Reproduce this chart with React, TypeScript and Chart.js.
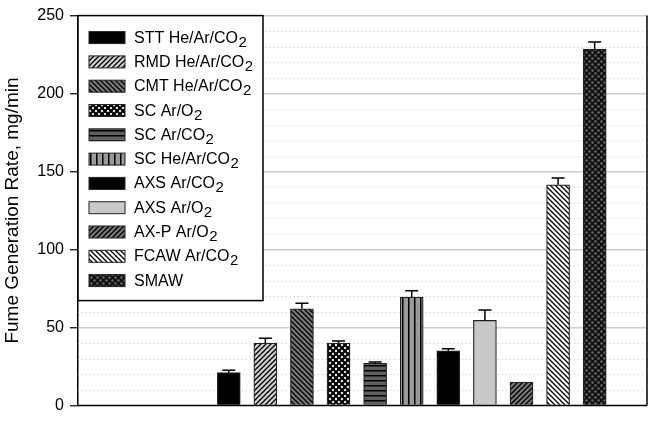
import React, { useEffect, useRef } from 'react';
import { Chart, registerables } from 'chart.js';

Chart.register(...registerables);

// ---- data ----
const categories = [
  'STT He/Ar/CO₂',
  'RMD He/Ar/CO₂',
  'CMT He/Ar/CO₂',
  'SC Ar/O₂',
  'SC Ar/CO₂',
  'SC He/Ar/CO₂',
  'AXS Ar/CO₂',
  'AXS Ar/O₂',
  'AX-P Ar/O₂',
  'FCAW Ar/CO₂',
  'SMAW',
];
const positions = [1, 2, 3, 4, 5, 6, 7, 8, 9, 10, 11];
const fumeRates = [21, 40, 62, 40, 27, 69.5, 35, 54.5, 15, 141.5, 228.5];
const errors = [1.5, 3, 3.5, 1.3, 0.8, 4, 1.3, 6.7, 0, 4.4, 4.6];
const fillKinds = ['black', 'fwdLight', 'backDark', 'net', 'horiz', 'vert', 'black', 'lightGray', 'fwdDark', 'backWhite', 'checkDark'];
const yMin = 0;
const yMax = 250;
const majorStep = 50;
const minorStep = 10;
const yTitle = 'Fume Generation Rate, mg/min';

const FONT = "'Liberation Sans', Arial, sans-serif";

function makeFill(kind: string): CanvasPattern | string {
  if (kind === 'black') return '#000000';
  if (kind === 'lightGray') return '#c8c8c8';
  const c = document.createElement('canvas');
  const s = kind === 'checkDark' ? 6 : kind === 'net' ? 6 : kind === 'vert' ? 6 : 5;
  c.width = s;
  c.height = s;
  const g = c.getContext('2d')!;
  const bg: Record<string, string> = {
    fwdLight: '#d0d0d0',
    backDark: '#7a7a7a',
    net: '#ffffff',
    horiz: '#606060',
    vert: '#9a9a9a',
    fwdDark: '#777777',
    backWhite: '#ffffff',
    checkDark: '#111111',
  };
  g.fillStyle = bg[kind];
  g.fillRect(0, 0, s, s);
  g.strokeStyle = '#000';
  g.lineWidth = 1.3;
  const fwd = () => {
    g.beginPath();
    g.moveTo(0, s); g.lineTo(s, 0);
    g.moveTo(-1, 1); g.lineTo(1, -1);
    g.moveTo(s - 1, s + 1); g.lineTo(s + 1, s - 1);
    g.stroke();
  };
  const back = () => {
    g.beginPath();
    g.moveTo(0, 0); g.lineTo(s, s);
    g.moveTo(-1, s - 1); g.lineTo(1, s + 1);
    g.moveTo(s - 1, -1); g.lineTo(s + 1, 1);
    g.stroke();
  };
  if (kind === 'fwdLight' || kind === 'fwdDark') fwd();
  else if (kind === 'backDark' || kind === 'backWhite') back();
  else if (kind === 'net') {
    g.lineWidth = 2.2;
    fwd();
    back();
  } else if (kind === 'horiz') {
    g.fillStyle = '#000';
    g.fillRect(0, 0, s, 1.5);
  } else if (kind === 'vert') {
    g.fillStyle = '#000';
    g.fillRect(0, 0, 1.5, s);
  } else if (kind === 'checkDark') {
    g.fillStyle = '#6a6a6a';
    g.beginPath();
    g.arc(1.5, 1.5, 1.3, 0, Math.PI * 2);
    g.arc(4.5, 4.5, 1.3, 0, Math.PI * 2);
    g.fill();
  }
  return g.createPattern(c, 'repeat')!;
}

export default function App() {
  const ref = useRef<HTMLCanvasElement | null>(null);

  useEffect(() => {
    if (!ref.current) return;
    const fills = fillKinds.map(makeFill);

    const minorGrid = {
      id: 'minorGrid',
      beforeDatasetsDraw(chart: any) {
        const { ctx, chartArea } = chart;
        const ys = chart.scales.y;
        ctx.save();
        ctx.strokeStyle = '#c4c4c4';
        ctx.lineWidth = 1;
        ctx.setLineDash([1, 3]);
        for (let v = yMin; v <= yMax; v += minorStep) {
          if (v % majorStep === 0) continue;
          const y = Math.round(ys.getPixelForValue(v)) + 0.5;
          ctx.beginPath();
          ctx.moveTo(chartArea.left, y);
          ctx.lineTo(chartArea.right, y);
          ctx.stroke();
        }
        ctx.restore();
      },
    };

    const frame = {
      id: 'frame',
      afterDatasetsDraw(chart: any) {
        const { ctx, chartArea } = chart;
        ctx.save();
        ctx.strokeStyle = '#000';
        ctx.lineWidth = 1.5;
        ctx.beginPath();
        ctx.moveTo(chartArea.left, chartArea.bottom);
        ctx.lineTo(chartArea.right, chartArea.bottom);
        ctx.moveTo(chartArea.right, chartArea.top);
        ctx.lineTo(chartArea.right, chartArea.bottom);
        ctx.stroke();
        ctx.restore();
      },
    };

    const errorBars = {
      id: 'errorBars',
      afterDatasetsDraw(chart: any) {
        const { ctx } = chart;
        const ys = chart.scales.y;
        const meta = chart.getDatasetMeta(0);
        ctx.save();
        ctx.strokeStyle = '#000';
        ctx.lineWidth = 1.5;
        meta.data.forEach((el: any, i: number) => {
          const e = errors[i];
          if (!e) return;
          const top = ys.getPixelForValue(fumeRates[i] + e);
          ctx.beginPath();
          ctx.moveTo(el.x, el.y);
          ctx.lineTo(el.x, top);
          ctx.moveTo(el.x - 6.5, top);
          ctx.lineTo(el.x + 6.5, top);
          ctx.stroke();
        });
        ctx.restore();
      },
    };

    const boxLegend = {
      id: 'boxLegend',
      afterDraw(chart: any) {
        const { ctx, chartArea } = chart;
        const x0 = chartArea.left;
        const y0 = chartArea.top;
        const w = 185;
        const h = 285;
        ctx.save();
        ctx.fillStyle = '#fff';
        ctx.fillRect(x0, y0, w, h);
        ctx.strokeStyle = '#000';
        ctx.lineWidth = 1.5;
        ctx.strokeRect(x0, y0, w, h);
        const labels: string[] = chart.data.labels;
        labels.forEach((lab, i) => {
          const cy = y0 + 22 + i * 24.3;
          ctx.fillStyle = fills[i] as any;
          ctx.fillRect(x0 + 11, cy - 6, 36, 12);
          ctx.strokeStyle = '#222';
          ctx.lineWidth = 1;
          ctx.strokeRect(x0 + 11, cy - 6, 36, 12);
          const parts = lab.split('₂');
          let tx = x0 + 56;
          const base = cy + 5;
          ctx.fillStyle = '#000';
          ctx.textBaseline = 'alphabetic';
          ctx.textAlign = 'left';
          parts.forEach((p, k) => {
            ctx.font = `16px ${FONT}`;
            ctx.fillText(p, tx, base);
            tx += ctx.measureText(p).width;
            if (k < parts.length - 1) {
              ctx.font = `15px ${FONT}`;
              ctx.fillText('2', tx + 0.5, base + 4);
              tx += ctx.measureText('2').width + 0.5;
            }
          });
        });
        ctx.restore();
      },
    };

    const chart = new Chart(ref.current, {
      type: 'bar',
      data: {
        labels: categories,
        datasets: [
          {
            data: positions.map((x, i) => ({ x, y: fumeRates[i] })),
            backgroundColor: fills as any,
            borderColor: '#222',
            borderWidth: 1.2,
            barThickness: 23,
          },
        ],
      },
      options: {
        animation: false,
        responsive: true,
        maintainAspectRatio: false,
        layout: { padding: { left: 0, right: 5, top: 11, bottom: 11 } },
        plugins: {
          legend: { display: false },
          tooltip: { enabled: false },
        },
        scales: {
          x: { type: 'linear', min: -3.12, max: 12.43, offset: false, display: false },
          y: {
            min: yMin,
            max: yMax,
            ticks: {
              stepSize: majorStep,
              color: '#000',
              font: { family: FONT, size: 16 },
              padding: 6,
            },
            grid: {
              color: (c: any) => (c.tick && c.tick.value === 0 ? 'rgba(0,0,0,0)' : '#cdcdcd'),
              lineWidth: 1.5,
              tickColor: '#000',
              tickLength: 8,
              tickWidth: 1.2,
            },
            border: { display: true, color: '#000', width: 1.5 },
            title: {
              display: true,
              text: yTitle,
              color: '#000',
              font: { family: FONT, size: 19 },
              padding: { top: 1, bottom: 0 },
            },
            afterFit: (s: any) => {
              s.width = 78;
            },
          },
        },
      } as any,
      plugins: [minorGrid, frame, errorBars, boxLegend],
    });
    return () => chart.destroy();
  }, []);

  return (
    <div style={{ position: 'fixed', left: 0, top: 0, width: 652, height: 421, background: '#fff' }}>
      <canvas ref={ref} />
    </div>
  );
}
